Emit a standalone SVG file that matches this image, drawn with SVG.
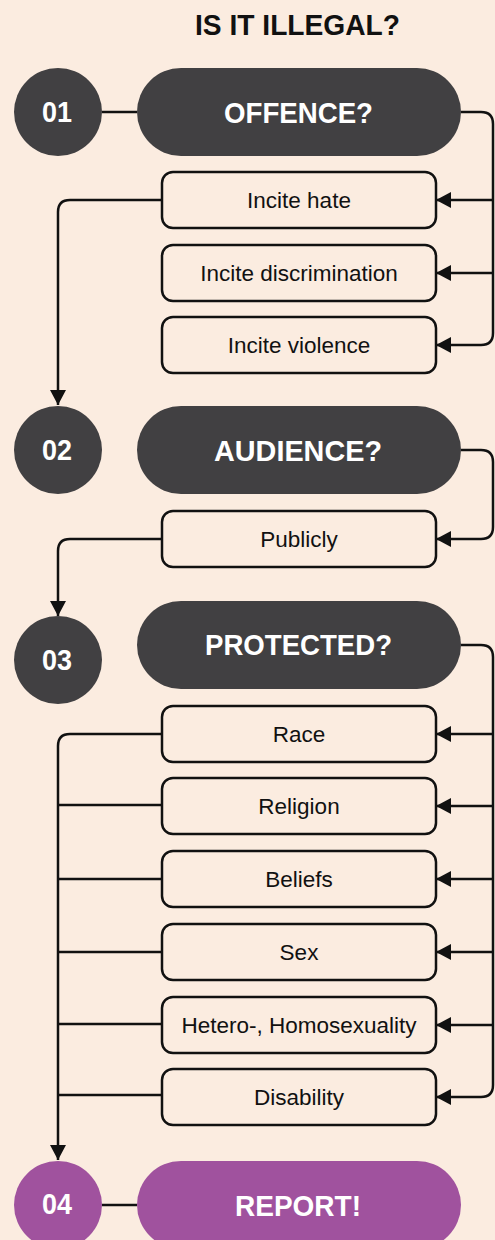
<svg xmlns="http://www.w3.org/2000/svg" width="495" height="1240" viewBox="0 0 495 1240">
<defs>
<style>
.bg{fill:#FBECE0}
.dark{fill:#414042}
.purple{fill:#A0529E}
.box{fill:#FBECE0;stroke:#111;stroke-width:2.5}
.con{fill:none;stroke:#111;stroke-width:2.5}
.num{font-family:"Liberation Sans",Arial,sans-serif;font-weight:bold;font-size:29px;fill:#fff;text-anchor:middle}
.head{font-family:"Liberation Sans",Arial,sans-serif;font-weight:bold;font-size:30px;fill:#fff;text-anchor:middle}
.lbl{font-family:"Liberation Sans",Arial,sans-serif;font-size:22.5px;fill:#111;text-anchor:middle}
.title{font-family:"Liberation Sans",Arial,sans-serif;font-weight:bold;font-size:29px;fill:#111;text-anchor:middle}
</style>
<marker id="ah" viewBox="0 0 15 16" refX="15" refY="8" markerWidth="15" markerHeight="16" markerUnits="userSpaceOnUse" orient="auto">
<path d="M0,0 L15,8 L0,16 z" fill="#111"/>
</marker>
</defs>
<rect class="bg" x="0" y="0" width="495" height="1240"/>
<text class="title" x="297.5" y="35" textLength="205" lengthAdjust="spacingAndGlyphs">IS IT ILLEGAL?</text>

<g id="connectors">
<path class="con" d="M102,112 H137"/>
<path class="con" d="M102,1205 H137"/>
<path class="con" d="M461,112 H481 Q493,112 493,124 V333 Q493,345 481,345 H436" marker-end="url(#ah)"/>
<path class="con" d="M493,200 H436" marker-end="url(#ah)"/>
<path class="con" d="M493,273 H436" marker-end="url(#ah)"/>
<path class="con" d="M162,200 H70 Q58,200 58,212 V405" marker-end="url(#ah)"/>
<path class="con" d="M461,450 H481 Q493,450 493,462 V527 Q493,539 481,539 H436" marker-end="url(#ah)"/>
<path class="con" d="M162,539 H70 Q58,539 58,551 V616" marker-end="url(#ah)"/>
<path class="con" d="M461,645 H481 Q493,645 493,657 V1085 Q493,1097 481,1097 H436" marker-end="url(#ah)"/>
<path class="con" d="M493,734 H436" marker-end="url(#ah)"/>
<path class="con" d="M493,806 H436" marker-end="url(#ah)"/>
<path class="con" d="M493,879 H436" marker-end="url(#ah)"/>
<path class="con" d="M493,952 H436" marker-end="url(#ah)"/>
<path class="con" d="M493,1025 H436" marker-end="url(#ah)"/>
<path class="con" d="M162,734 H70 Q58,734 58,746 V1160" marker-end="url(#ah)"/>
<path class="con" d="M162,805 H58"/>
<path class="con" d="M162,879 H58"/>
<path class="con" d="M162,952 H58"/>
<path class="con" d="M162,1024 H58"/>
<path class="con" d="M162,1095 H58"/>
</g>

<g id="step01">
<circle class="dark" cx="58" cy="112" r="44"/>
<text class="num" x="57" y="122" textLength="30" lengthAdjust="spacingAndGlyphs">01</text>
</g>
<g id="offence">
<rect class="dark" x="137" y="68" width="324" height="88" rx="44"/>
<text class="head" x="298.5" y="122.5" textLength="149" lengthAdjust="spacingAndGlyphs">OFFENCE?</text>
</g>
<g id="incite-hate">
<rect class="box" x="162" y="172" width="274" height="56" rx="11"/>
<text class="lbl" x="299" y="208">Incite hate</text>
</g>
<g id="incite-discrimination">
<rect class="box" x="162" y="245" width="274" height="56" rx="11"/>
<text class="lbl" x="299" y="281">Incite discrimination</text>
</g>
<g id="incite-violence">
<rect class="box" x="162" y="317" width="274" height="56" rx="11"/>
<text class="lbl" x="299" y="353">Incite violence</text>
</g>

<g id="step02">
<circle class="dark" cx="58" cy="450" r="44"/>
<text class="num" x="57" y="460" textLength="30" lengthAdjust="spacingAndGlyphs">02</text>
</g>
<g id="audience">
<rect class="dark" x="137" y="406" width="324" height="88" rx="44"/>
<text class="head" x="298" y="461" textLength="168" lengthAdjust="spacingAndGlyphs">AUDIENCE?</text>
</g>
<g id="publicly">
<rect class="box" x="162" y="511" width="274" height="56" rx="11"/>
<text class="lbl" x="299" y="547">Publicly</text>
</g>

<g id="step03">
<circle class="dark" cx="58" cy="660" r="44"/>
<text class="num" x="57" y="670" textLength="30" lengthAdjust="spacingAndGlyphs">03</text>
</g>
<g id="protected">
<rect class="dark" x="137" y="601" width="324" height="88" rx="44"/>
<text class="head" x="298.5" y="654.5" textLength="187" lengthAdjust="spacingAndGlyphs">PROTECTED?</text>
</g>
<g id="race">
<rect class="box" x="162" y="706" width="274" height="56" rx="11"/>
<text class="lbl" x="299" y="742">Race</text>
</g>
<g id="religion">
<rect class="box" x="162" y="778" width="274" height="56" rx="11"/>
<text class="lbl" x="299" y="814">Religion</text>
</g>
<g id="beliefs">
<rect class="box" x="162" y="851" width="274" height="56" rx="11"/>
<text class="lbl" x="299" y="887">Beliefs</text>
</g>
<g id="sex">
<rect class="box" x="162" y="924" width="274" height="56" rx="11"/>
<text class="lbl" x="299" y="960">Sex</text>
</g>
<g id="sexuality">
<rect class="box" x="162" y="997" width="274" height="56" rx="11"/>
<text class="lbl" x="299" y="1033">Hetero-, Homosexuality</text>
</g>
<g id="disability">
<rect class="box" x="162" y="1069" width="274" height="56" rx="11"/>
<text class="lbl" x="299" y="1105">Disability</text>
</g>

<g id="step04">
<circle class="purple" cx="58" cy="1205" r="44"/>
<text class="num" x="57" y="1214" textLength="30" lengthAdjust="spacingAndGlyphs">04</text>
</g>
<g id="report">
<rect class="purple" x="137" y="1161" width="324" height="88" rx="44"/>
<text class="head" x="298" y="1216" textLength="126" lengthAdjust="spacingAndGlyphs">REPORT!</text>
</g>
</svg>
